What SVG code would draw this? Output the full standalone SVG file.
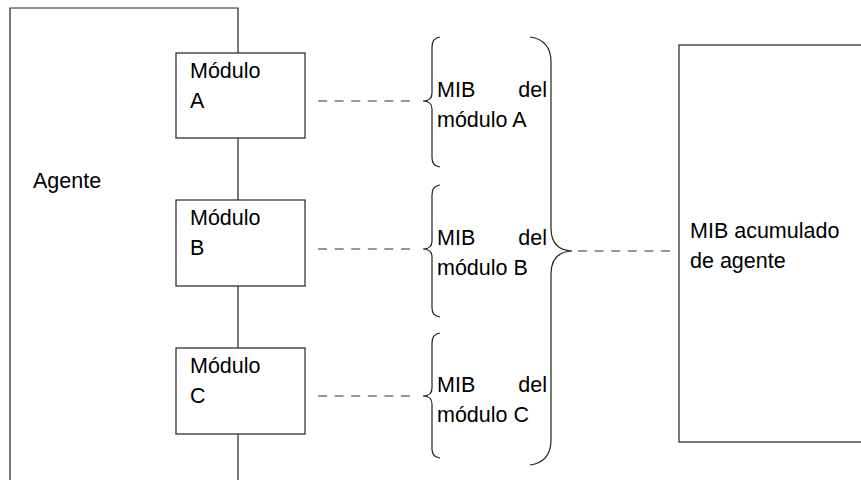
<svg xmlns="http://www.w3.org/2000/svg" width="861" height="480" viewBox="0 0 861 480">
<style>
.ln{fill:none;stroke:#222;stroke-width:1.2}
.box{fill:#fff;stroke:#222;stroke-width:1.2}
.dash{fill:none;stroke:#333;stroke-width:1.1;stroke-dasharray:9,7.6}
.t{font-family:"Liberation Sans",Arial,sans-serif;font-size:21.5px;fill:#000}
</style>
<rect width="861" height="480" fill="#fff"/>
<g id="agente">
<path class="ln" d="M10,481 L10,8 L238,8 L238,481"/>
<text class="t" x="33" y="188">Agente</text>
</g>
<g id="modA">
<rect class="box" x="176" y="53" width="129" height="85"/>
<text class="t" x="190" y="78">Módulo</text>
<text class="t" x="190" y="108">A</text>
</g>
<g id="modB">
<rect class="box" x="176" y="200" width="129" height="86"/>
<text class="t" x="190" y="225">Módulo</text>
<text class="t" x="190" y="255">B</text>
</g>
<g id="modC">
<rect class="box" x="176" y="348" width="129" height="86"/>
<text class="t" x="190" y="373">Módulo</text>
<text class="t" x="190" y="403">C</text>
</g>
<g id="mibA">
<path class="ln" d="M440,37 Q432,38 432,47 L432,93 Q432,101 423,101 Q432,101 432,109 L432,158 Q432,166 440,167"/>
<text class="t" y="97"><tspan x="437">MIB</tspan><tspan x="547" text-anchor="end">del</tspan></text>
<text class="t" x="437" y="127">módulo A</text>
</g>
<g id="mibB">
<path class="ln" d="M440,185 Q432,186 432,195 L432,241 Q432,249 423,249 Q432,249 432,257 L432,308 Q432,316 440,317"/>
<text class="t" y="245"><tspan x="437">MIB</tspan><tspan x="547" text-anchor="end">del</tspan></text>
<text class="t" x="437" y="275">módulo B</text>
</g>
<g id="mibC">
<path class="ln" d="M440,333 Q432,334 432,343 L432,388 Q432,396 423,396 Q432,396 432,404 L432,449 Q432,457 440,458"/>
<text class="t" y="392"><tspan x="437">MIB</tspan><tspan x="547" text-anchor="end">del</tspan></text>
<text class="t" x="437" y="422">módulo C</text>
</g>
<g id="brace">
<path class="ln" d="M530,37 Q551,40 551,62 L551,228 Q551,250 572,251 Q551,252 551,274 L551,440 Q551,462 530,465"/>
</g>
<g id="mibAgente">
<rect class="box" x="679" y="45" width="200" height="397"/>
<text class="t" x="690" y="238">MIB acumulado</text>
<text class="t" x="690" y="268">de agente</text>
</g>
<g id="connectors">
<line class="dash" x1="318" y1="101" x2="411" y2="101"/>
<line class="dash" x1="318" y1="249" x2="411" y2="249"/>
<line class="dash" x1="318" y1="396" x2="411" y2="396"/>
<line class="dash" x1="578" y1="251" x2="672" y2="251"/>
</g>
</svg>
